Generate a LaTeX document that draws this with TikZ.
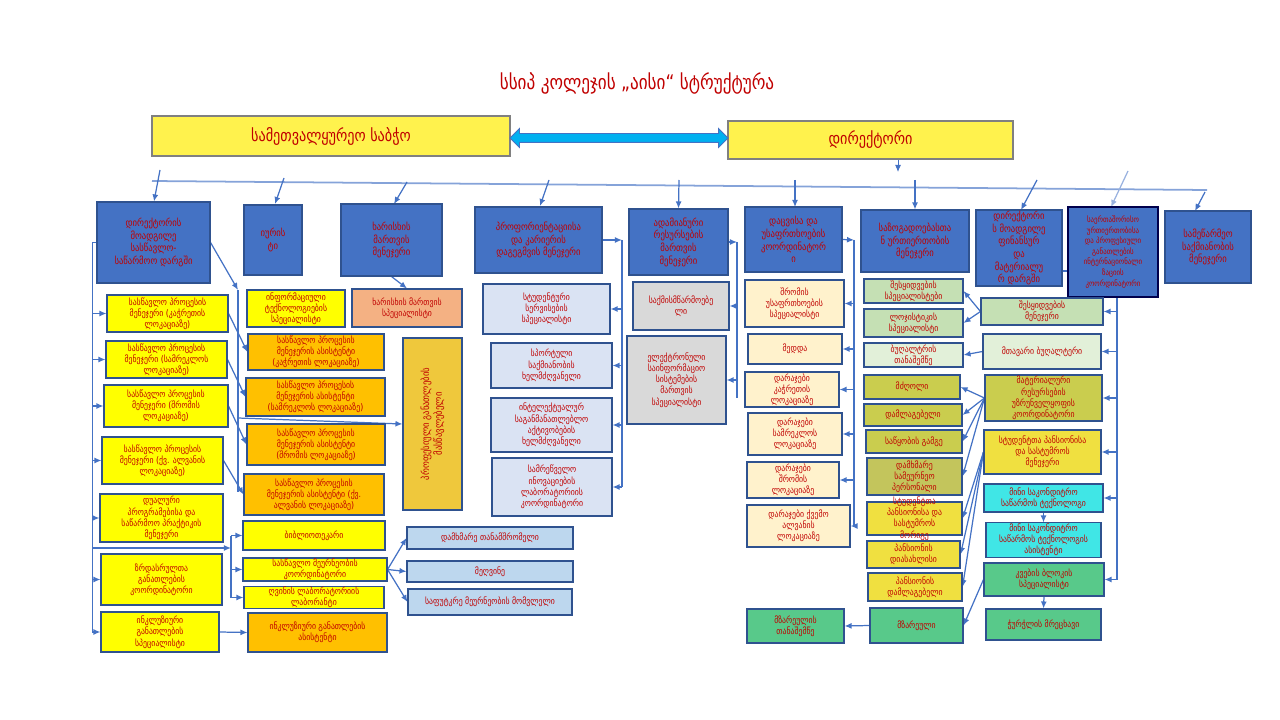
\documentclass[tikz,border=0pt]{standalone}
\usepackage{fontspec}
\setmainfont{DejaVu Sans}[FakeStretch=0.85]
\usetikzlibrary{arrows.meta,shapes.arrows,backgrounds,calc,positioning}
\definecolor{txtred}{HTML}{C00000}
\definecolor{bord}{HTML}{2F528F}
\definecolor{lnblue}{HTML}{4472C4}
\definecolor{topy}{HTML}{FFF24D}
\definecolor{ylw}{HTML}{FFFF00}
\definecolor{orng}{HTML}{FFC000}
\definecolor{salm}{HTML}{F4B183}
\definecolor{gold}{HTML}{EFC83C}
\definecolor{lav}{HTML}{DAE3F3}
\definecolor{gry}{HTML}{D9D9D9}
\definecolor{crm}{HTML}{FFF2CC}
\definecolor{lgrn}{HTML}{C5E0B4}
\definecolor{vlgrn}{HTML}{E2F0D9}
\definecolor{olv}{HTML}{CACD4E}
\definecolor{olvd}{HTML}{C3C55C}
\definecolor{pyel}{HTML}{F0E040}
\definecolor{cyn}{HTML}{40E6E6}
\definecolor{grn}{HTML}{58C98A}
\definecolor{lblu}{HTML}{BDD7EE}
\definecolor{arrcyan}{HTML}{00B0F0}
\tikzset{
  sz/.style 2 args={
    minimum width=#1*0.2mm,
    minimum height=#2*0.2mm
  },
  box/.style={
    shape = rectangle,
    draw = bord,
    line width=0.6pt,
    inner sep=0.5pt,
    align=center,
    text=txtred,
    font=\fontsize{5.2}{6.4}\selectfont
  },
  boss/.style={
    box,
    fill=lnblue,
    font=\fontsize{5.8}{7.2}\selectfont
  },
  top/.style={
    box,
    fill=topy,
    draw=gray,
    font=\fontsize{9.5}{11}\selectfont
  },
  over/.style={
    text=txtred,
    align=center,
    inner sep=0pt,
    font=\fontsize{5.2}{6.4}\selectfont
  },
  con/.style={
    draw=lnblue,
    line width=0.7pt
  },
  arr/.style={
    con,
    -{Latex[length=4pt,width=3.4pt]}
  },
}

\begin{document}
\begin{tikzpicture}[x=0.2mm,y=-0.2mm]
\useasboundingbox (0,0) rectangle (1280,720);
\node[text=txtred, font=\fontsize{11.5}{13}\selectfont] (title) at (637,83) {სსიპ კოლეჯის „აისი“ სტრუქტურა};
\node[top, sz={358}{40}] (board) at (331,136) {სამეთვალყურეო საბჭო};
\node[top, sz={285}{38}] (dir) at (870.5,140) {დირექტორი};
\node[double arrow, fill=arrcyan, draw=lnblue, line width=0.5pt, inner sep=0.8mm,
  double arrow head extend=1mm, minimum height=218*0.2mm] (link) at (619,138) {};

\node[boss, sz={113}{81}] (b1) at (153.5,242.5) {დირექტორის\\მოადგილე\\სასწავლო-\\საწარმოო დარგში};
\node[boss, sz={58}{70}] (b2) at (273,240) {იურის\\ტი};
\node[boss, sz={101}{72}] (b3) at (391.5,240) {ხარისხის\\მართვის\\მენეჯერი};
\node[boss, sz={127}{66}] (b4) at (538.5,240) {პროფორიენტაციისა\\და კარიერის\\დაგეგმვის მენეჯერი};
\node[boss, sz={99}{66}] (b5) at (678.5,242) {ადამიანური\\რესურსების\\მართვის\\მენეჯერი};
\node[boss, sz={97}{65}] (b6) at (793.5,239.5) {დაცვისა და\\უსაფრთხოების\\კოორდინატორ\\ი};
\node[boss, sz={108}{62}] (b7) at (915,241) {საზოგადოებასთა\\ნ ურთიერთობის\\მენეჯერი};
\node[boss, sz={86}{76}] (b8) at (1019,248) {დირექტორი\\ს მოადგილე\\ფინანსურ\\და\\მატერიალუ\\რ დარგში};
\node[boss, draw=black!70!blue, sz={90}{90}, font=\fontsize{4.6}{6}\selectfont] (b9) at (1113,252) {საერთაშორისო\\ურთიერთობისა\\და პროფესიული\\განათლების\\ინტერნაციონალი\\ზაციის\\კოორდინატორი};
\node[boss, sz={86}{72}] (b10) at (1208,247) {სამეწარმეო\\საქმიანობის\\მენეჯერი};

\node[box, fill=ylw, sz={121}{37}] (a1) at (167.5,313.5) {სასწავლო პროცესის\\მენეჯერი (კაჭრეთის\\ლოკაციაზე)};
\node[box, fill=ylw, sz={121}{37}] (a2) at (166.5,359.5) {სასწავლო პროცესის\\მენეჯერი (სამრეკლოს\\ლოკაციაზე)};
\node[box, fill=ylw, sz={124}{42}] (a3) at (166,406) {სასწავლო პროცესის\\მენეჯერი (შრომის\\ლოკაციაზე)};
\node[box, fill=ylw, sz={121}{47}] (a4) at (162.5,460.5) {სასწავლო პროცესის\\მენეჯერი (ქვ. ალვანის\\ლოკაციაზე)};
\node[box, fill=ylw, sz={123}{48}] (a5) at (161.5,518) {დუალური\\პროგრამებისა და\\საწარმოო პრაქტიკის\\მენეჯერი};
\node[box, fill=ylw, sz={121}{51}] (a6) at (161.5,579.5) {ზრდასრულთა\\განათლების\\კოორდინატორი};
\node[box, fill=ylw, sz={118}{40}] (a7) at (160,632) {ინკლუზიური\\განათლების\\სპეციალისტი};

\node[box, fill=ylw, sz={98}{37}] (it) at (296,308.5) {ინფორმაციული\\ტექნოლოგიების\\სპეციალისტი};
\node[box, fill=salm, sz={110}{38}] (qs) at (407,308) {ხარისხის მართვის\\სპეციალისტი};
\node[box, fill=orng, sz={136}{36}] (s1) at (316,352) {სასწავლო პროცესის\\მენეჯერის ასისტენტი\\(კაჭრეთის ლოკაციაზე)};
\node[box, fill=orng, sz={139}{38}] (s2) at (315.5,397) {სასწავლო პროცესის\\მენეჯერის ასისტენტი\\(სამრეკლოს ლოკაციაზე)};
\node[box, fill=orng, sz={138}{41}] (s3) at (316,444.5) {სასწავლო პროცესის\\მენეჯერის ასისტენტი\\(შრომის ლოკაციაზე)};
\node[box, fill=orng, sz={140}{41}] (s4) at (314,494.5) {სასწავლო პროცესის\\მენეჯერის ასისტენტი (ქვ.\\ალვანის ლოკაციაზე)};
\node[box, fill=ylw, sz={142}{29}] (lib) at (314,535.5) {ბიბლიოთეკარი};
\node[box, fill=ylw, sz={144}{23}] (farm) at (315,569.5) {სასწავლო მეურნეობის\\კოორდინატორი};
\node[box, fill=ylw, sz={140}{21}] (wine) at (314,597.5) {ღვინის ლაბორატორიის\\ლაბორანტი};
\node[box, fill=orng, sz={139}{39}] (incl) at (317.5,632.5) {ინკლუზიური განათლების\\ასისტენტი};
\node[box, fill=gold, sz={59}{172}] (teach) at (432.5,424) {};
\node[over, rotate=90, font=\fontsize{5.8}{7.2}\selectfont] at (teach) {პროფესიული განათლების\\მასწავლებელი};
\node[box, fill=lblu, sz={166}{22}] (lb1) at (490,538) {დამხმარე თანამშრომელი};
\node[box, fill=lblu, sz={166}{21}] (lb2) at (490,571.5) {მეღვინე};
\node[box, fill=lblu, sz={164}{26}] (lb3) at (490,602) {საფუტკრე მეურნეობის მომვლელი};

\node[box, fill=lav, sz={127}{50}] (l1) at (546.5,309) {სტუდენტური\\სერვისების\\სპეციალისტი};
\node[box, fill=lav, sz={121}{45}] (l2) at (551.5,365.5) {სპორტული\\საქმიანობის\\ხელმძღვანელი};
\node[box, fill=lav, sz={121}{54}] (l3) at (551.5,425) {ინტელექტუალურ\\საგანმანათლებლო\\აქტივობების\\ხელმძღვანელი};
\node[box, fill=lav, sz={120}{58}] (l4) at (552,487) {სამრეწველო\\ინოვაციების\\ლაბორატორიის\\კოორდინატორი};

\node[box, fill=gry, sz={96}{48}] (g1) at (681,306) {საქმისმწარმოებე\\ლი};
\node[box, fill=gry, sz={99}{88}] (g2) at (676.5,380) {ელექტრონული\\საინფორმაციო\\სისტემების\\მართვის\\სპეციალისტი};

\node[box, fill=crm, sz={99}{47}] (c1) at (794.5,303.5) {შრომის\\უსაფრთხოების\\სპეციალისტი};
\node[box, fill=crm, sz={94}{30}] (c2) at (795,349) {მედდა};
\node[box, fill=crm, sz={94}{35}] (c3) at (792,389.5) {დარაჯები\\კაჭრეთის\\ლოკაციაზე};
\node[box, fill=crm, sz={94}{42}] (c4) at (795,434) {დარაჯები\\სამრეკლოს\\ლოკაციაზე};
\node[box, fill=crm, sz={92}{36}] (c5) at (793,480) {დარაჯები\\შრომის\\ლოკაციაზე};
\node[box, fill=crm, sz={103}{42}] (c6) at (798.5,526) {დარაჯები ქვემო\\ალვანის\\ლოკაციაზე};

\node[box, fill=lgrn, sz={99}{24}] (pr1) at (913.5,291) {შესყიდვების\\სპეციალისტები};
\node[box, fill=lgrn, sz={99}{28}] (pr2) at (913.5,323) {ლოჯისტიკის\\სპეციალისტი};
\node[box, fill=lgrn, sz={122}{27}] (prm) at (1042,311.5) {შესყიდვების\\მენეჯერი};
\node[box, fill=vlgrn, sz={99}{24}] (acc1) at (913.5,355) {ბუღალტრის\\თანაშემწე};
\node[box, fill=vlgrn, sz={118}{35}] (acc) at (1042,351.5) {მთავარი ბუღალტერი};
\node[box, fill=olv, sz={96}{24}] (o1) at (912,387) {მძღოლი};
\node[box, fill=olv, sz={98}{22}] (o2) at (913,415) {დამლაგებელი};
\node[box, fill=olv, sz={96}{23}] (o3) at (914,441.5) {საწყობის გამგე};
\node[box, fill=olvd, sz={95}{37}] (o4) at (914.5,476.5) {};
\node[over] at (o4) {დამხმარე\\სამეურნეო\\პერსონალი};
\node[box, fill=olv, sz={117}{46}] (mrc) at (1043.5,398) {მატერიალური\\რესურსების\\უზრუნველყოფის\\კოორდინატორი};
\node[box, fill=pyel, sz={117}{44}] (pm) at (1042.5,452) {სტუდენტთა პანსიონისა\\და სასტუმროს\\მენეჯერი};
\node[box, fill=pyel, sz={95}{33}] (p1) at (914.5,518.5) {};
\node[over] at (p1) {სტუდენტთა\\პანსიონისა და\\სასტუმროს\\მორიგე};
\node[box, fill=pyel, sz={93}{27}] (p2) at (913.5,554.5) {პანსიონის\\დიასახლისი};
\node[box, fill=pyel, sz={94}{28}] (p3) at (915,587) {პანსიონის\\დამლაგებელი};
\node[box, fill=cyn, sz={119}{28}] (cy1) at (1043.5,498) {მინი საკონდიტრო\\საწარმოს ტექნოლოგი};
\node[box, fill=cyn, sz={115}{34}] (cy2) at (1043.5,540) {მინი საკონდიტრო\\საწარმოს ტექნოლოგის\\ასისტენტი};
\node[box, fill=grn, sz={120}{33}] (gr1) at (1044,579.5) {კვების ბლოკის\\სპეციალისტი};
\node[box, fill=grn, sz={115}{31}] (gr2) at (1043.5,624.5) {ჭურჭლის მრეცხავი};
\node[box, fill=grn, sz={93}{35}] (ck) at (916.5,625.5) {მზარეული};
\node[box, fill=grn, sz={97}{34}] (ck2) at (795.5,626) {მზარეულის\\თანაშემწე};

\begin{scope}[on background layer]
\coordinate (d0) at (898,172);
\draw[arr, line width=0.5pt] (dir.south -| d0) -- (d0);
\draw[con, draw=lnblue!65, line width=1pt] (152,181) -- (1207,190);
\draw[arr] (160,170) -- (b1.north -| 154,0);
\draw[arr] (284,178) -- (275,204);
\draw[arr] (407,182) -- (394,204);
\draw[arr] (549,180) -- (540,206);
\draw[arr] (679,180) -- (b5.north);
\draw[arr] (795,180) -- (795,207);
\draw[arr] (915,180) -- (b7.north);
\draw[arr] (1037,180) -- (1021,210);
\draw[arr, draw=lnblue!55] (1128,171) -- (1111,207);
\draw[arr] (1205,192) -- (1195,211);

\draw[con] (b1.west) -- ++(-4,0) coordinate (lv) -- (lv |- a7.west);
\foreach \i in {1,...,7}
  \draw[arr] (lv |- a\i.west) -- (a\i.west);
\coordinate (bk) at (231,548);
\draw[arr] (lv |- bk) -- (bk);
\draw[con] (bk |- lib.west) -- (bk |- wine.west);
\foreach \n in {lib,farm,wine}
  \draw[arr] (bk |- \n.west) -- (\n.west);
\coordinate (tv) at (238,290);
\draw[arr] (b1.east) -- (tv);
\draw[con] (tv) -- (238,492);
\draw[arr] (238,418) -- (teach.west);
\foreach \i in {1,...,4}
  \draw[arr] (a\i.east) -- (s\i.west);
\draw[arr] (a7.east) -- (incl.west);
\draw[arr] (b3.south) -- (qs.north);
\foreach \n in {lb1,lb2,lb3}
  \draw[arr] (farm.east) -- (\n.west);

\coordinate (v4) at (622,240);
\draw[arr] (b4.east) -- (v4);
\draw[con] (v4) -- (v4 |- l4.east);
\foreach \n in {l1,l2,l3,l4}
  \draw[arr] (v4 |- \n.east) -- (\n.east);
\coordinate (v5) at (737,242);
\draw[arr] (b5.east) -- (v5);
\draw[con] (v5) -- (737,398);
\foreach \n in {g1,g2}
  \draw[arr] (v5 |- \n.east) -- (\n.east);
\coordinate (v6) at (854,240);
\draw[arr] (b6.east) -- (v6);
\draw[con] (v6) -- (v6 |- c6.east);
\foreach \n in {c1,c2,c3,c4,c5,c6}
  \draw[arr] (v6 |- \n.east) -- (\n.east);

\coordinate (v8) at (1117,271);
\draw[con] (b8.east |- v8) -- (v8) -- (v8 |- gr1.east);
\foreach \n in {prm,acc,mrc,pm,cy1,gr1}
  \draw[arr] (v8 |- \n.east) -- (\n.east);
\foreach \n in {pr1,pr2}
  \draw[arr] (prm.west) -- (\n.east);
\draw[arr] (acc.west) -- (acc1.east);
\foreach \n in {o1,o2,o3,o4}
  \draw[arr] (mrc.west) -- (\n.east);
\foreach \n in {p1,p2,p3}
  \draw[arr] (pm.west) -- (\n.east);
\draw[arr] (cy1.south) -- (cy2.north);
\draw[arr] (gr1.south) -- (gr2.north);
\draw[arr] (gr1.west) -- (ck.east);
\draw[arr] (ck.west) -- (ck2.east);
\end{scope}
\end{tikzpicture}
\end{document}
